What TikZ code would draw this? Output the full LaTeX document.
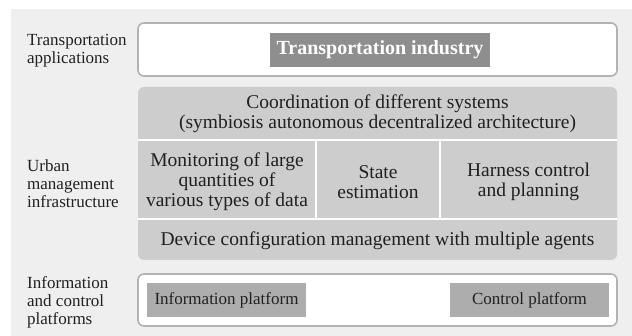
\documentclass[tikz,border=0pt]{standalone}
\usepackage{fontspec}
\setmainfont{Liberation Serif}
\definecolor{bgc}{HTML}{EFEFEF}
\definecolor{panel}{HTML}{CDCDCD}
\definecolor{bord}{HTML}{B2B2B2}
\definecolor{titlec}{HTML}{8E8E8E}
\definecolor{platc}{HTML}{ADADAD}
\definecolor{txt}{HTML}{231F20}
\begin{document}
\begin{tikzpicture}[x=1pt,y=-1pt,
  sidelabel/.style={anchor=west,align=left,inner sep=0pt,text=txt,font=\fontsize{17}{18}\selectfont},
  celltext/.style={align=center,inner sep=0pt,text=txt,font=\fontsize{19.5}{20}\selectfont},
  framebox/.style={draw=bord,line width=1.6pt,fill=white,rounded corners=6pt},
  platbox/.style={fill=platc,text=txt,inner sep=0pt,font=\fontsize{17}{18}\selectfont},
  sep/.style={draw=white,line width=1.2pt}]
\useasboundingbox (0,0) rectangle (632,336);
\fill[white] (0,0) rectangle (632,336);
\fill[bgc] (11,9) rectangle (632,336);
% top box
\draw[framebox] (138,23) rectangle (617,76);
\node[fill=titlec,text=white,minimum width=220pt,minimum height=34pt,inner sep=0pt,font=\fontsize{20}{20}\selectfont\bfseries] (title) at (380,50) {Transportation industry};
% middle panel
\fill[panel,rounded corners=6pt] (138,87) rectangle (617,260);
\draw[sep] (138,140) -- (617,140);
\draw[sep] (138,219) -- (617,219);
\draw[sep] (316,140) -- (316,219);
\draw[sep] (440,140) -- (440,219);
\node[celltext] (coord) at (377.5,114) {Coordination of different systems\\(symbiosis autonomous decentralized architecture)};
\node[celltext] (mon) at (227,182) {Monitoring of large\\quantities of\\various types of data};
\node[celltext] (state) at (378,182) {State\\estimation};
\node[celltext] (harness) at (528.5,182) {Harness control\\and planning};
\node[celltext] (device) at (377.5,241) {Device configuration management with multiple agents};
% bottom box
\draw[framebox] (138,274) rectangle (617,326);
\node[platbox,minimum width=159pt,minimum height=34pt] (info) at (226.5,300) {Information platform};
\node[platbox,minimum width=159pt,minimum height=34pt] (ctrl) at (529.5,300) {Control platform};
% side labels
\node[sidelabel] (l1) at (27,51) {Transportation\\applications};
\node[sidelabel] (l2) at (27,184) {Urban\\management\\infrastructure};
\node[sidelabel] (l3) at (27,302) {Information\\and control\\platforms};
\end{tikzpicture}
\end{document}
